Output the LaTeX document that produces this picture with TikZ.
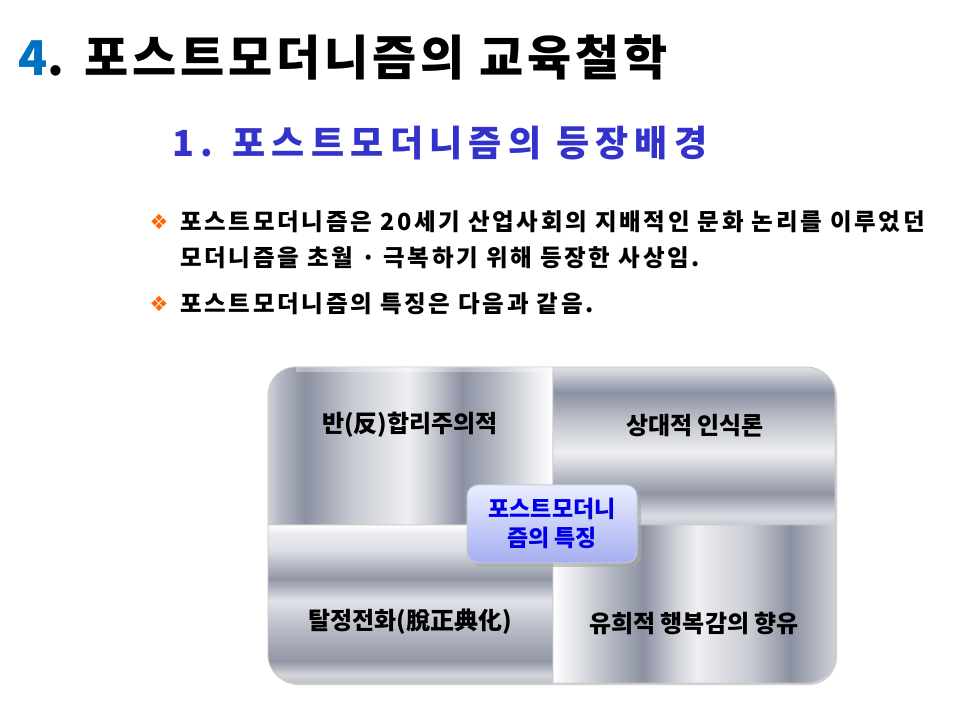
\documentclass[tikz,border=0pt]{standalone}
\usepackage{fontspec}
\setmainfont{Noto Sans CJK KR}
\newfontfamily\titlefont[LetterSpace=8]{Noto Sans CJK KR}
\newfontfamily\subfont[LetterSpace=17.5]{Noto Sans CJK KR}
\newfontfamily\bodyfont[LetterSpace=11.5]{Noto Sans CJK KR}
\newfontfamily\symfont{DejaVu Sans}
\definecolor{titleblue}{RGB}{0,112,192}
\definecolor{subblue}{RGB}{51,51,204}
\definecolor{bulletorange}{RGB}{255,102,0}
\definecolor{boxblue}{RGB}{0,0,230}
\definecolor{mZ}{RGB}{208,210,217}
\definecolor{mA}{RGB}{180,184,195}
\definecolor{mD}{RGB}{140,145,162}
\definecolor{mC}{RGB}{200,203,211}
\definecolor{mL}{RGB}{238,239,242}
\definecolor{mE}{RGB}{210,212,219}
\definecolor{mG}{RGB}{232,233,237}
\definecolor{nA}{RGB}{218,220,226}
\definecolor{nD}{RGB}{145,150,166}
\definecolor{nB}{RGB}{195,198,207}
\definecolor{nC}{RGB}{205,208,215}
\definecolor{nE}{RGB}{222,224,229}
\definecolor{nF}{RGB}{190,193,202}
\definecolor{nG}{RGB}{212,214,220}
\definecolor{nH}{RGB}{185,188,198}
\definecolor{nI}{RGB}{225,227,232}
\definecolor{nJ}{RGB}{220,222,228}
\definecolor{nK}{RGB}{235,236,240}
\definecolor{boxtop}{RGB}{234,238,255}
\definecolor{boxbot}{RGB}{166,174,240}
\definecolor{boxrim}{RGB}{190,205,205}
\pgfdeclarehorizontalshading{tlshade}{100bp}{color(0bp)=(mZ); color(25bp)=(mZ); color(27bp)=(mA); color(31.5bp)=(mD); color(40bp)=(mC); color(49.5bp)=(mL); color(53bp)=(mE); color(59bp)=(mD); color(65bp)=(mA); color(71.5bp)=(mG); color(75bp)=(white); color(100bp)=(white)}
\pgfdeclarehorizontalshading{brshade}{100bp}{color(0bp)=(white); color(25bp)=(white); color(28.5bp)=(mG); color(35bp)=(mA); color(41bp)=(mD); color(47bp)=(mE); color(50.5bp)=(mL); color(60bp)=(mC); color(67bp)=(mD); color(72bp)=(mA); color(75bp)=(mZ); color(100bp)=(mZ)}
\pgfdeclareverticalshading{trshade}{100bp}{color(0bp)=(mC); color(25bp)=(mC); color(28bp)=(nA); color(35bp)=(nD); color(42bp)=(nB); color(48bp)=(mL); color(57.5bp)=(nB); color(67bp)=(mD); color(73bp)=(nC); color(75bp)=(nE); color(100bp)=(nE)}
\pgfdeclareverticalshading{blshade}{100bp}{color(0bp)=(nF); color(25bp)=(nF); color(27.5bp)=(nG); color(32bp)=(nD); color(42.5bp)=(nH); color(51bp)=(nI); color(58bp)=(nD); color(67bp)=(nJ); color(72.5bp)=(nK); color(75bp)=(white); color(100bp)=(white)}
\begin{document}
\begin{tikzpicture}[x=1pt,y=1pt,
  txt/.style={inner sep=0pt, anchor=west, text=black},
  quad/.style={draw=black!22, line width=0.8pt},
  label/.style={inner sep=0pt, text=black, font=\fontsize{24}{28}\selectfont\bfseries},
  bulletmark/.style={inner sep=0pt, text=bulletorange, font=\symfont\fontsize{21}{21}\selectfont}]
\useasboundingbox (0,0) rectangle (960,720);
\fill[white] (0,0) rectangle (960,720);
% title
\node[txt] (title) at (18,663) {\titlefont\fontsize{48}{50}\selectfont\bfseries\textcolor{titleblue}{4}. 포스트모더니즘의 교육철학};
\node[txt, text=subblue] (sub) at (172,577) {\subfont\fontsize{36}{38}\selectfont\bfseries 1. 포스트모더니즘의 등장배경};
% bullets
\node[bulletmark] (b1) at (159,498) {❖};
\node[txt] (l1) at (180,498) {\bodyfont\fontsize{23.5}{26}\selectfont\bfseries 포스트모더니즘은 20세기 산업사회의 지배적인 문화 논리를 이루었던};
\node[txt] (l2) at (180,462) {\bodyfont\fontsize{23.5}{26}\selectfont\bfseries 모더니즘을 초월 · 극복하기 위해 등장한 사상임.};
\node[bulletmark] (b2) at (159,416) {❖};
\node[txt] (l3) at (180,416) {\bodyfont\fontsize{23.5}{26}\selectfont\bfseries 포스트모더니즘의 특징은 다음과 같음.};
% outer shadow
\fill[black!18] (270,193) -- (270,324) arc(180:90:28) -- (809,351) arc(90:0:28) -- (837,63) arc(0:-90:28) -- (298,35) arc(270:180:28) -- cycle;
% quadrants
\path[quad, shading=tlshade] (268,195) -- (268,325) arc(180:90:28) -- (553,353) -- (553,195) -- cycle;
\path[quad, shading=trshade] (553,195) -- (553,353) -- (807,353) arc(90:0:28) -- (835,195) -- cycle;
\path[quad, shading=blshade] (268,195) -- (553,195) -- (553,37) -- (296,37) arc(270:180:28) -- cycle;
\path[quad, shading=brshade] (553,195) -- (835,195) -- (835,65) arc(0:-90:28) -- (553,37) -- cycle;
% top highlight
\fill[white, opacity=0.35] (296,353) -- (553,353) -- (553,348) -- (296,348) -- cycle;
% labels
\node[label] (q1) at (410,295) {반(反)합리주의적};
\node[label] (q2) at (695,294) {상대적 인식론};
\node[label] (q3) at (410,98) {탈정전화(脫正典化)};
\node[label] (q4) at (694,97) {유희적 행복감의 향유};
% center box
\fill[black!35, opacity=0.6, rounded corners=11] (471,153) rectangle (641,232);
\path[rounded corners=11, top color=boxtop, bottom color=boxbot, draw=boxrim, line width=1pt] (467,157) rectangle (637,235);
\node[inner sep=0pt, align=center, text=boxblue, font=\fontsize{23}{29}\selectfont\bfseries] (center) at (552,197) {포스트모더니\\즘의 특징};
\end{tikzpicture}
\end{document}
